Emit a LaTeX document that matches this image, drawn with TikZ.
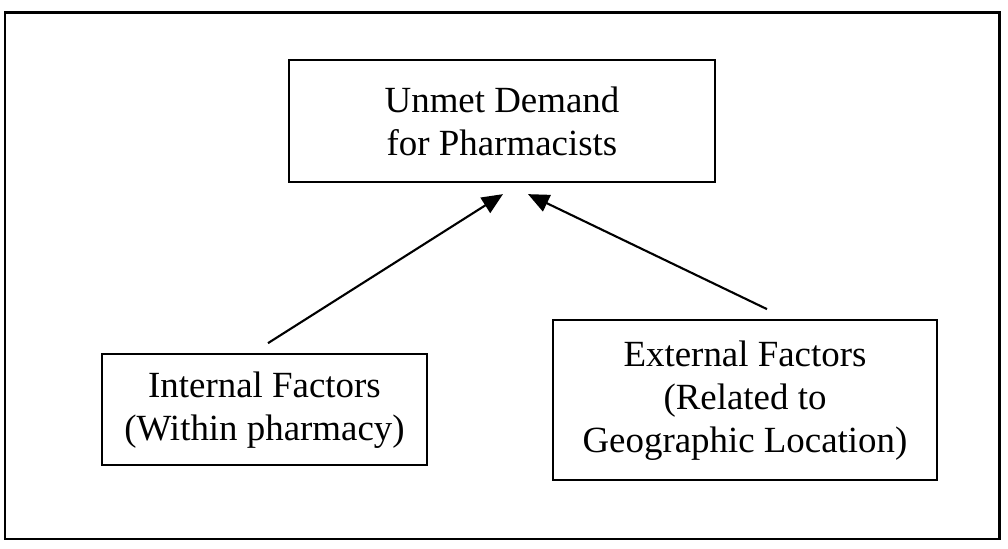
\documentclass[tikz,border=0pt]{standalone}
\usepackage{fontspec}
\setmainfont{Liberation Serif}
\usepackage{tikz}
\usetikzlibrary{arrows.meta}
\usetikzlibrary{positioning}
\usetikzlibrary{calc}
\tikzstyle{block} = [draw, rectangle, line width = 1.3pt, align = center, inner sep = 0pt, font = \fontsize{21}{24.5}\selectfont]
\tikzstyle{arrow} = [line width = 1.2pt, -{Triangle[length = 0.42cm, width = 0.36cm]}]
\tikzstyle{frame} = [line width = 1.7pt]

\begin{document}
\begin{tikzpicture}
	\useasboundingbox (0, 0) rectangle (20.16, -10.98);
	
	% Outer frame
	\draw[frame] (0.1, -0.26) rectangle (19.98, -10.78);
	
	% Unmet demand
	\node[block, minimum width = 8.52 cm, minimum height = 2.44 cm] (demand) at (10.04, -2.42) {Unmet Demand\\for Pharmacists};
	\coordinate[below = 0.22 cm of demand.south, xshift = 0.02 cm] (bdemandl);
	\coordinate[below = 0.22 cm of demand.south, xshift = 0.52 cm] (bdemandr);
	
	% Internal factors
	\node[block, minimum width = 6.5 cm, minimum height = 2.22 cm, below = 3.4 cm of demand.south, xshift = -4.75 cm, anchor = north] (internal) {Internal Factors\\(Within pharmacy)};
	\coordinate[above = 0.2 cm of internal.north, xshift = 0.07 cm] (ainternal);
	
	% External factors
	\node[block, minimum width = 7.68 cm, minimum height = 3.2 cm, below = 2.72 cm of demand.south, xshift = 4.86 cm, anchor = north] (external) {External Factors\\(Related to\\Geographic Location)};
	\coordinate[above = 0.2 cm of external.north, xshift = 0.44 cm] (aexternal);
	
	% Connect
	\draw[arrow] (ainternal) -- (bdemandl);
	\draw[arrow] (aexternal) -- (bdemandr);
	
\end{tikzpicture}
\end{document}
